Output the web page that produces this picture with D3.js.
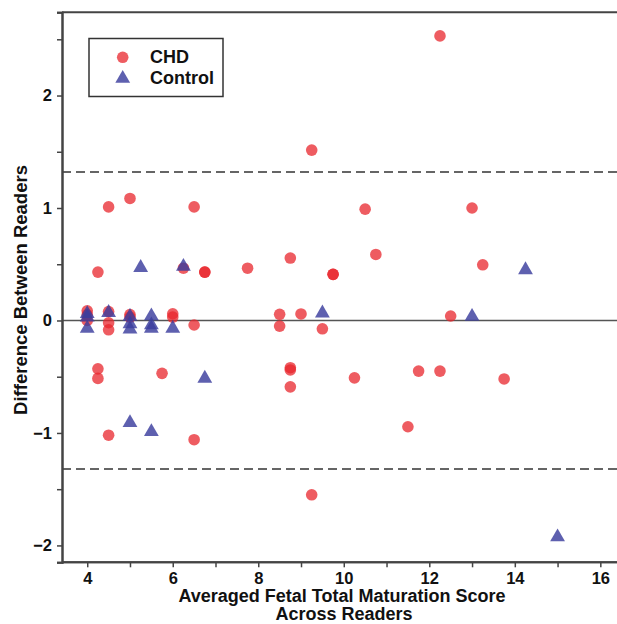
<!DOCTYPE html>
<html>
<head>
<meta charset="utf-8">
<script src="https://cdn.jsdelivr.net/npm/d3@7"></script>
<style>
  body { margin: 0; background: #fff; }
  text { font-family: "Liberation Sans", Arial, sans-serif; font-weight: bold; fill: #111; }
</style>
</head>
<body>
<div id="chart"></div>
<script>
// CHD points: [averaged score, difference]
const chdX = [12.25, 9.25, 4.5, 5.0, 6.5, 10.5, 13.0, 4.25, 6.25, 6.75, 6.75, 7.75, 8.75, 9.75, 9.75, 10.75, 13.25,
  4.0, 4.0, 4.0, 4.5, 4.5, 4.5, 5.0, 5.0, 6.0, 6.0, 6.5, 8.5, 8.5, 9.0, 9.5, 12.5,
  4.25, 4.25, 4.5, 5.75, 6.5, 8.75, 8.75, 8.75, 9.25, 10.25, 11.75, 12.25, 11.5, 13.75];
const chdY = [2.53, 1.515, 1.01, 1.085, 1.01, 0.99, 1.0, 0.43, 0.465, 0.43, 0.43, 0.465, 0.555, 0.41, 0.41, 0.587, 0.495,
  0.086, 0.05, 0.0, 0.08, -0.02, -0.083, 0.053, 0.03, 0.06, 0.03, -0.04, 0.055, -0.05, 0.058, -0.074, 0.04,
  -0.43, -0.515, -1.02, -0.47, -1.06, -0.42, -0.44, -0.59, -1.55, -0.51, -0.45, -0.45, -0.945, -0.52];

// Control points
const ctrlX = [4.0, 4.0, 4.0, 4.5, 5.0, 5.0, 5.0, 5.5, 5.5, 5.5, 6.0, 5.25, 6.25, 5.0, 5.5, 6.75, 9.5, 13.0, 14.25, 15.0];
const ctrlY = [0.06, 0.03, -0.07, 0.07, 0.035, -0.03, -0.077, 0.04, -0.04, -0.07, -0.07, 0.47, 0.48, -0.91, -0.99, -0.515, 0.065, 0.035, 0.45, -1.925];

const limitOfAgreement = 1.32;
const xTicks = [4, 6, 8, 10, 12, 14, 16];
const yTicks = [-2, -1, 0, 1, 2];

const width = 617, height = 624;
const svg = d3.select("#chart").append("svg")
  .attr("width", width).attr("height", height);

const x = d3.scaleLinear().domain([3.41, 16.39]).range([62, 617]);
const y = d3.scaleLinear().domain([-2.15, 2.74]).range([562.3, 12.3]);

// frame (top line)
svg.append("line").attr("x1", x.range()[0]).attr("x2", width)
  .attr("y1", y.range()[1]).attr("y2", y.range()[1])
  .attr("stroke", "#444").attr("stroke-width", 2);

// reference lines
svg.append("line").attr("x1", x.range()[0]).attr("x2", width)
  .attr("y1", y(0)).attr("y2", y(0))
  .attr("stroke", "#555").attr("stroke-width", 1.6);
[limitOfAgreement, -limitOfAgreement].forEach(v => {
  svg.append("line").attr("x1", x.range()[0]).attr("x2", width)
    .attr("y1", y(v)).attr("y2", y(v))
    .attr("stroke", "#333").attr("stroke-width", 1.6)
    .attr("stroke-dasharray", "9,5");
});

// axes
const xAxis = d3.axisBottom(x).tickValues(xTicks).tickSize(5).tickPadding(5).tickFormat(d3.format("d"));
const xMinor = d3.axisBottom(x).tickValues([5, 7, 9, 11, 13, 15]).tickSize(5).tickFormat("");
const yAxis = d3.axisLeft(y).tickValues(yTicks).tickSize(5).tickPadding(5).tickFormat(d => d < 0 ? "\u2212" + Math.abs(d) : d);
const yMinor = d3.axisLeft(y).tickValues([-1.5, -0.5, 0.5, 1.5, 2.5]).tickSize(5).tickFormat("");

function styleAxis(g) {
  g.select(".domain").attr("stroke", "#444").attr("stroke-width", 2);
  g.selectAll(".tick line").attr("stroke", "#444").attr("stroke-width", 1.5);
  g.selectAll(".tick text").style("font-size", "16.5px").style("font-weight", "bold")
    .style("font-family", "'Liberation Sans', Arial, sans-serif").attr("fill", "#111");
}

svg.append("g").attr("transform", `translate(0,${y.range()[0]})`).call(xMinor).call(styleAxis)
  .select(".domain").attr("d", `M${x.range()[0]},0H${width}`);
svg.append("g").attr("transform", `translate(0,${y.range()[0]})`).call(xAxis).call(styleAxis)
  .select(".domain").attr("d", `M${x.range()[0]},0H${width}`);
svg.append("g").attr("transform", `translate(${x.range()[0]},0)`).call(yMinor).call(styleAxis);
svg.append("g").attr("transform", `translate(${x.range()[0]},0)`).call(yAxis).call(styleAxis);

// points
const red = "#e8262c", blue = "#3b3d9e";
const tri = d3.symbol().type(d3.symbolTriangle).size(95);

svg.append("g").selectAll("circle")
  .data(d3.range(chdX.length))
  .join("circle")
  .attr("cx", i => x(chdX[i]))
  .attr("cy", i => y(chdY[i]))
  .attr("r", 5.8)
  .attr("fill", red)
  .attr("fill-opacity", 0.75);

svg.append("g").selectAll("path")
  .data(d3.range(ctrlX.length))
  .join("path")
  .attr("d", tri)
  .attr("transform", i => `translate(${x(ctrlX[i])},${y(ctrlY[i])})`)
  .attr("fill", blue)
  .attr("fill-opacity", 0.82);

// legend
const lg = svg.append("g");
lg.append("rect").attr("x", 89).attr("y", 38.5).attr("width", 134).attr("height", 58)
  .attr("fill", "#fff").attr("stroke", "#333").attr("stroke-width", 1.5);
lg.append("circle").attr("cx", 122.7).attr("cy", 57.3).attr("r", 5.8)
  .attr("fill", red).attr("fill-opacity", 0.75);
lg.append("path").attr("d", tri).attr("transform", "translate(122.7,78.5)")
  .attr("fill", blue).attr("fill-opacity", 0.82);
lg.append("text").attr("x", 150).attr("y", 63).style("font-size", "18px").text("CHD");
lg.append("text").attr("x", 150).attr("y", 84).style("font-size", "18px").text("Control");

// axis titles
svg.append("text").attr("text-anchor", "middle")
  .attr("transform", "translate(27,290) rotate(-90)")
  .style("font-size", "18.5px").text("Difference Between Readers");
svg.append("text").attr("text-anchor", "middle").attr("x", 342).attr("y", 602)
  .style("font-size", "18px").text("Averaged Fetal Total Maturation Score");
svg.append("text").attr("text-anchor", "middle").attr("x", 344).attr("y", 619.5)
  .style("font-size", "18px").text("Across Readers");
</script>
</body>
</html>
